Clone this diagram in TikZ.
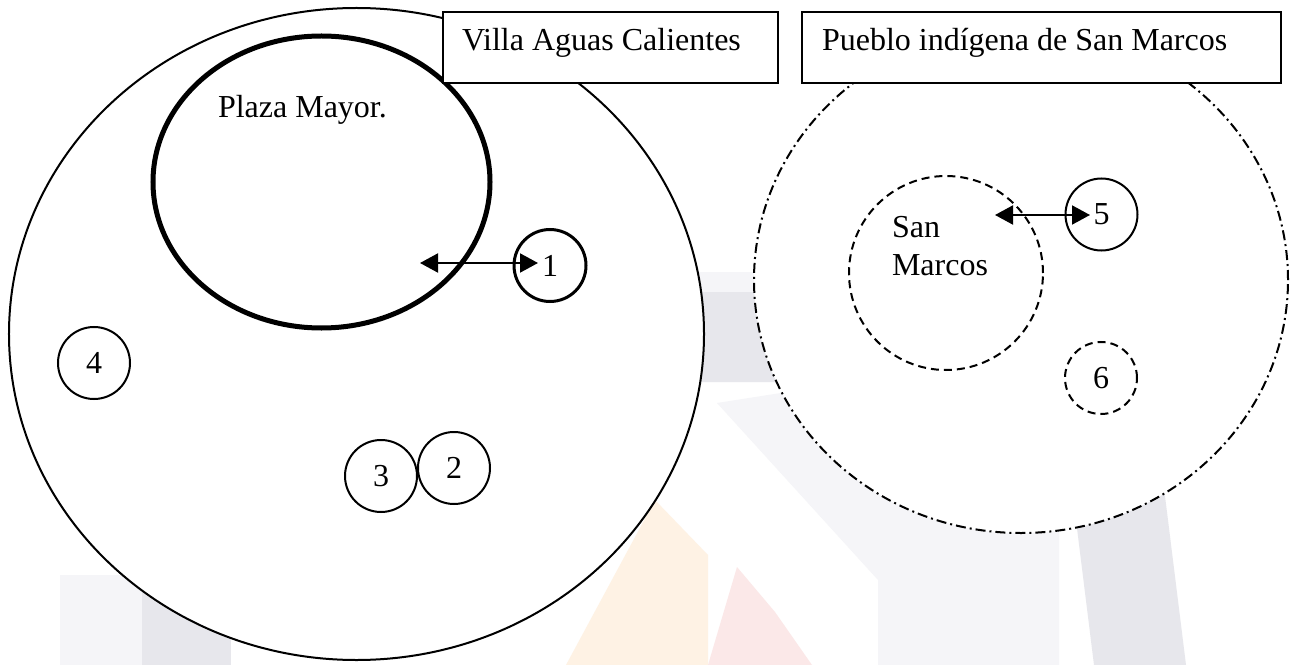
\documentclass[tikz,border=0pt]{standalone}
\usepackage{fontspec}
\setmainfont{Liberation Serif}
\usetikzlibrary{shapes.geometric,arrows.meta}
\definecolor{wmgray}{HTML}{E7E7EC}
\definecolor{wmlight}{HTML}{F5F5F8}
\definecolor{wmorange}{HTML}{FEF2E4}
\definecolor{wmpink}{HTML}{FBE8E8}
\begin{document}
\begin{tikzpicture}[x=1bp,y=-1bp,
  every node/.style={inner sep=0pt, outer sep=0pt},
  txt/.style={font=\fontsize{32bp}{38bp}\selectfont},
  outline/.style={draw, line width=2bp},
  circ/.style={outline, circle, minimum size=72bp, txt},
  ell/.style={outline, ellipse, fill=white},
  box/.style={outline, rectangle, fill=white, anchor=north west, minimum height=71bp},
  dbl/.style={{Triangle[length=18bp,width=19bp]}-{Triangle[length=18bp,width=19bp]}, line width=2bp},
  dashdot/.style={dash pattern=on 10bp off 4bp on 2bp off 4bp},
  dsh/.style={dash pattern=on 8bp off 5bp}]
\useasboundingbox (0,0) rectangle (1292,665);
\fill[white] (0,0) rectangle (1292,665);
% faint watermark behind the diagram
\fill[wmlight] (60,575) rectangle (142,665);
\fill[wmgray] (142,500) rectangle (231,665);
\fill[wmlight] (640,272) -- (790,272) -- (790,292) -- (640,292) -- cycle;
\fill[wmgray] (640,292) -- (790,292) -- (800,382) -- (640,382) -- cycle;
\fill[wmlight] (717,403) -- (800,390) -- (1059,520) -- (1059,665) -- (878,665) -- (878,580) -- cycle;
\fill[wmgray] (1071,480) -- (1163,480) -- (1186,665) -- (1094,665) -- cycle;
\fill[wmorange] (655,500) -- (708,555) -- (708,665) -- (566,665) -- cycle;
\fill[wmpink] (737,567) -- (775,612) -- (812,665) -- (708,665) -- cycle;
% main shapes
\node[ell, minimum width=695bp, minimum height=652bp] (villaE) at (356.5,334) {};
\node[ell, dashdot, minimum width=534bp, minimum height=506bp] (puebloE) at (1021,280) {};
\node[ell, line width=5bp, minimum width=337bp, minimum height=292bp] (plazaE) at (321.5,182) {};
\node[txt, anchor=base west] (plazaT) at (218,118) {Plaza Mayor.};
\node[circ, line width=3bp] (c1) at (550,265.5) {1};
\node[circ] (c2) at (454,468) {2};
\node[circ] (c3) at (381,476) {3};
\node[circ] (c4) at (94,363) {4};
\node[outline, dsh, circle, minimum size=194bp] (smE) at (946,273) {};
\node[txt, anchor=base west] (smT1) at (892,238) {San};
\node[txt, anchor=base west] (smT2) at (892,275) {Marcos};
\node[circ] (c5) at (1101.5,214.5) {5};
\node[circ, dsh] (c6) at (1101,378) {6};
\coordinate (a1s) at (420,263);
\coordinate (a1e) at (538,263);
\draw[dbl] (a1s) -- (a1e);
\coordinate (a5s) at (995,215);
\coordinate (a5e) at (1090,215);
\draw[dbl] (a5s) -- (a5e);
% title boxes
\node[box, minimum width=335bp] (villaB) at (443,12) {};
\node[txt, anchor=base west] (villaT) at (462,51) {Villa Aguas Calientes};
\node[box, minimum width=479bp] (puebloB) at (802,12) {};
\node[txt, anchor=base west] (puebloT) at (822,51) {Pueblo indígena de San Marcos};
\end{tikzpicture}
\end{document}
